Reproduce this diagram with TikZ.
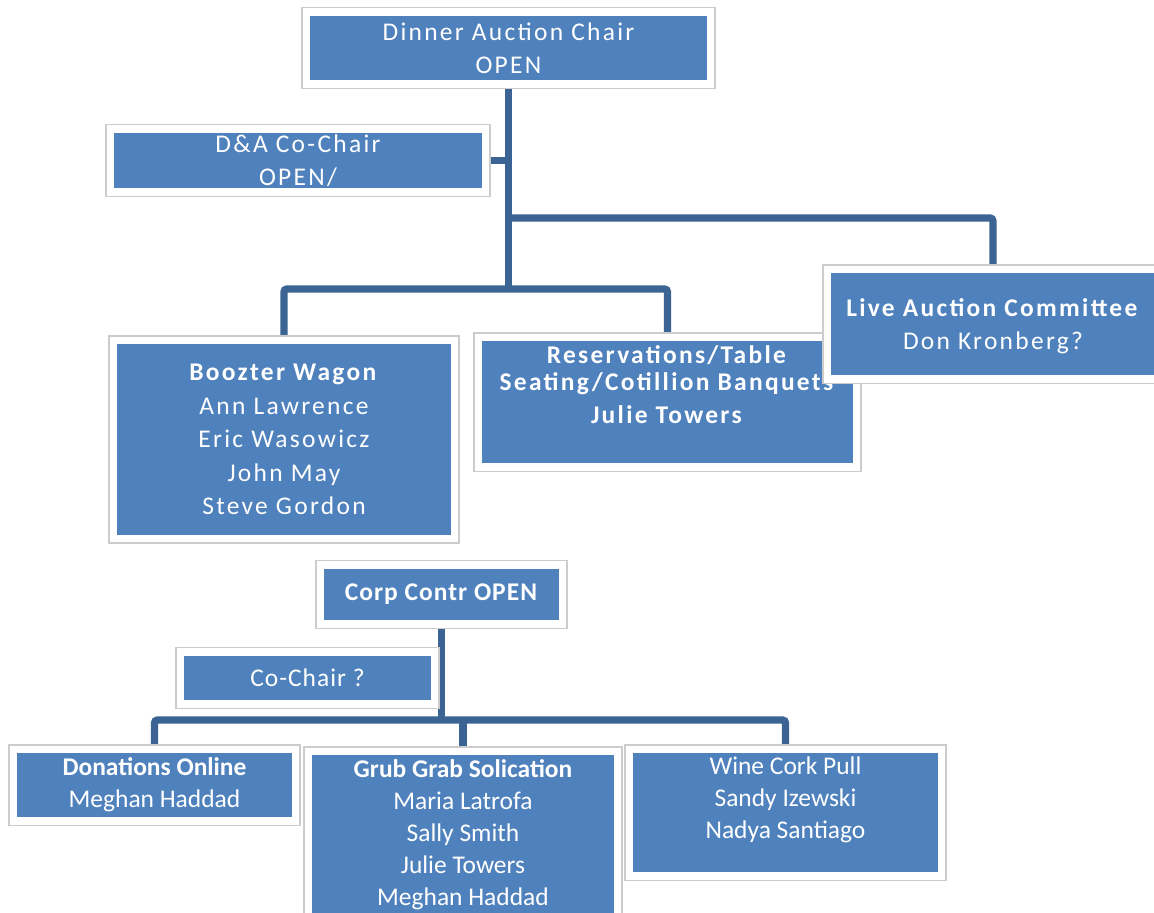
\documentclass[tikz,border=0pt]{standalone}
\usepackage{fontspec}
\setmainfont{Carlito}
\newfontfamily\spaced[LetterSpace=9]{Carlito}
\newfontfamily\tight[LetterSpace=4]{Carlito}
\usetikzlibrary{positioning,backgrounds}
\definecolor{boxblue}{RGB}{79,129,189}
\definecolor{linkblue}{RGB}{59,99,148}

\tikzset{
  unit/.style={rectangle, fill=boxblue, draw=white, line width=4pt,
    preaction={draw=black!20, line width=5.3pt},
    text=white, align=center, inner sep=0pt,
    font=\fontsize{14.5}{19}\selectfont\spaced},
  small/.style={unit, font=\fontsize{14.5}{19}\selectfont\tight},
  lower/.style={unit, font=\fontsize{14.5}{18.2}\selectfont},
  link/.style={draw=linkblue, line width=4pt, rounded corners=1.5pt}
}

\begin{document}
\begin{tikzpicture}[x=0.02cm, y=-0.02cm]
\useasboundingbox (0,0) rectangle (1154,913);

% Dinner auction branch
\node[unit, minimum width=8.1cm, minimum height=1.44cm] (chair) at (508.5,48) {Dinner Auction Chair\\OPEN};
\node[unit, minimum width=7.52cm, minimum height=1.26cm] (cochair) at (298,160.5) {D\&A Co-Chair\\OPEN/};
\node[unit, minimum width=6.84cm, minimum height=3.98cm] (boozter) at (284,439.5)
  {\textbf{Boozter Wagon}\\Ann Lawrence\\Eric Wasowicz\\John May\\Steve Gordon};
\node[unit, minimum width=7.58cm, minimum height=2.6cm, text depth=20pt] (reserv) at (667.5,402)
  {\textbf{Reservations/Table}\\[-3.5pt]\textbf{Seating/Cotillion Banquets}\\\textbf{Julie Towers}};
\node[unit, minimum width=6.64cm, minimum height=2.2cm, text depth=-2.5pt] (live) at (993,324)
  {\textbf{Live Auction Committee}\\Don Kronberg?};

% Corporate contributions branch
\node[small, minimum width=4.86cm, minimum height=1.18cm] (corp) at (441.5,594.5) {\textbf{Corp Contr OPEN}};
\node[small, minimum width=5.1cm, minimum height=1.04cm] (corpco) at (307.5,678) {Co-Chair ?};
\node[lower, minimum width=5.66cm, minimum height=1.44cm] (donations) at (154.5,785)
  {\textbf{Donations Online}\\Meghan Haddad};
\node[lower, minimum width=6.2cm, minimum height=3.36cm] (grub) at (463,835)
  {\textbf{Grub Grab Solication}\\Maria Latrofa\\Sally Smith\\Julie Towers\\Meghan Haddad};
\node[lower, minimum width=6.26cm, minimum height=2.54cm, text depth=17pt] (wine) at (785.5,812.5)
  {Wine Cork Pull\\Sandy Izewski\\Nadya Santiago};

% Connectors
\coordinate (fork) at (508.5,289);
\coordinate (rfork) at (508.5,218);
\coordinate (lowfork) at (441.5,720);
\begin{scope}[on background layer]
\draw[link] (chair.south) -- (fork);
\draw[link] (cochair.east) -- (cochair.east -| chair.south);
\draw[link] (rfork) -| (live.north);
\draw[link] (boozter.north) |- (fork) -| (reserv.north);
\draw[link] (corp.south) -- (lowfork);
\draw[link] (donations.north) |- (lowfork) -| (wine.north);
\draw[link] (grub.north) -- (grub.north |- lowfork);
\end{scope}
\end{tikzpicture}
\end{document}
